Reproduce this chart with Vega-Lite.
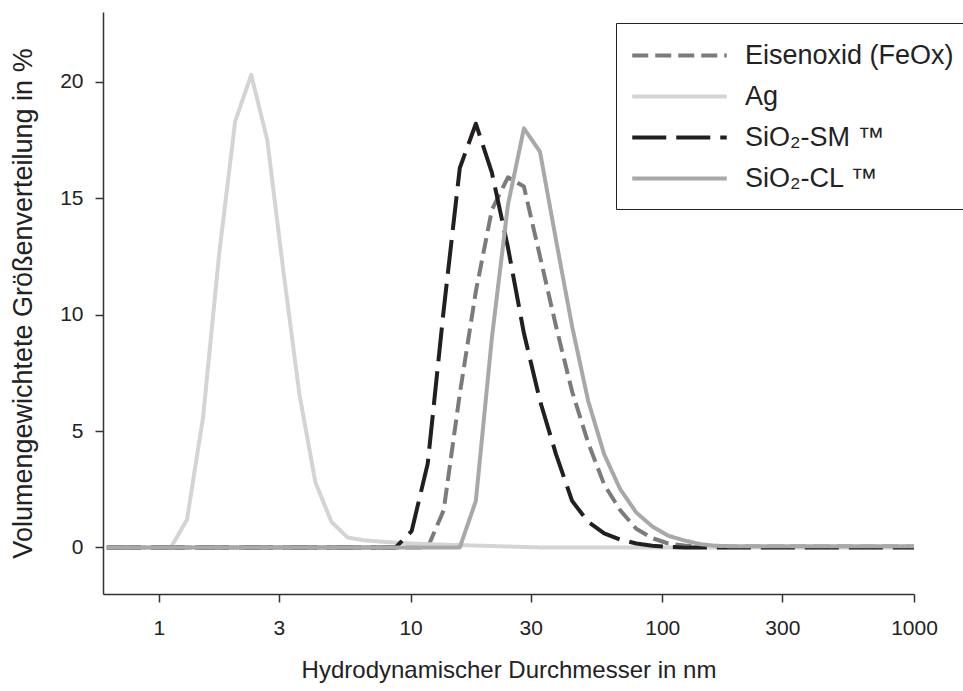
{
  "$schema": "https://vega.github.io/schema/vega-lite/v6.json",
  "autosize": "none",
  "width": 811,
  "height": 582,
  "padding": {"left": 103, "top": 12, "right": 49, "bottom": 97},
  "background": "white",
  "config": {
    "view": {"stroke": null},
    "font": "Liberation Sans",
    "axis": {
      "grid": false,
      "labelFlush": false,
      "domainColor": "#333333",
      "domainWidth": 1.5,
      "tickColor": "#333333",
      "tickWidth": 1.5,
      "tickSize": 8,
      "labelFont": "Liberation Sans",
      "labelFontSize": 21,
      "labelColor": "#222222",
      "titleFont": "Liberation Sans",
      "titleFontSize": 24,
      "titleFontWeight": "normal",
      "titleColor": "#222222"
    },
    "legend": {
      "labelFont": "Liberation Sans"
    }
  },
  "data": {
    "values": [
      {"s":"Eisenoxid (FeOx)","d":0.6213,"v":0},{"s":"Eisenoxid (FeOx)","d":0.7195,"v":0},{"s":"Eisenoxid (FeOx)","d":0.8332,"v":0},{"s":"Eisenoxid (FeOx)","d":0.9649,"v":0},{"s":"Eisenoxid (FeOx)","d":1.117,"v":0},{"s":"Eisenoxid (FeOx)","d":1.294,"v":0},{"s":"Eisenoxid (FeOx)","d":1.499,"v":0},{"s":"Eisenoxid (FeOx)","d":1.736,"v":0},{"s":"Eisenoxid (FeOx)","d":2.01,"v":0},{"s":"Eisenoxid (FeOx)","d":2.328,"v":0},{"s":"Eisenoxid (FeOx)","d":2.696,"v":0},{"s":"Eisenoxid (FeOx)","d":3.122,"v":0},{"s":"Eisenoxid (FeOx)","d":3.615,"v":0},{"s":"Eisenoxid (FeOx)","d":4.187,"v":0},{"s":"Eisenoxid (FeOx)","d":4.849,"v":0},{"s":"Eisenoxid (FeOx)","d":5.615,"v":0},{"s":"Eisenoxid (FeOx)","d":6.503,"v":0},{"s":"Eisenoxid (FeOx)","d":7.531,"v":0},{"s":"Eisenoxid (FeOx)","d":8.721,"v":0},{"s":"Eisenoxid (FeOx)","d":10.1,"v":0},{"s":"Eisenoxid (FeOx)","d":11.7,"v":0},{"s":"Eisenoxid (FeOx)","d":13.54,"v":1.6},{"s":"Eisenoxid (FeOx)","d":15.69,"v":6.6},{"s":"Eisenoxid (FeOx)","d":18.17,"v":11.0},{"s":"Eisenoxid (FeOx)","d":21.04,"v":14.5},{"s":"Eisenoxid (FeOx)","d":24.36,"v":15.9},{"s":"Eisenoxid (FeOx)","d":28.21,"v":15.5},{"s":"Eisenoxid (FeOx)","d":32.67,"v":12.5},{"s":"Eisenoxid (FeOx)","d":37.84,"v":9.5},{"s":"Eisenoxid (FeOx)","d":43.82,"v":6.7},{"s":"Eisenoxid (FeOx)","d":50.75,"v":4.5},{"s":"Eisenoxid (FeOx)","d":58.77,"v":2.7},{"s":"Eisenoxid (FeOx)","d":68.06,"v":1.6},{"s":"Eisenoxid (FeOx)","d":78.82,"v":0.8},{"s":"Eisenoxid (FeOx)","d":91.28,"v":0.4},{"s":"Eisenoxid (FeOx)","d":105.7,"v":0.17},{"s":"Eisenoxid (FeOx)","d":122.4,"v":0.08},{"s":"Eisenoxid (FeOx)","d":141.8,"v":0.05},{"s":"Eisenoxid (FeOx)","d":164.2,"v":0.04},{"s":"Eisenoxid (FeOx)","d":190.1,"v":0.04},{"s":"Eisenoxid (FeOx)","d":220.2,"v":0.04},{"s":"Eisenoxid (FeOx)","d":255.0,"v":0.04},{"s":"Eisenoxid (FeOx)","d":295.3,"v":0.04},{"s":"Eisenoxid (FeOx)","d":342.0,"v":0.04},{"s":"Eisenoxid (FeOx)","d":396.1,"v":0.04},{"s":"Eisenoxid (FeOx)","d":458.7,"v":0.04},{"s":"Eisenoxid (FeOx)","d":531.2,"v":0.04},{"s":"Eisenoxid (FeOx)","d":615.1,"v":0.04},{"s":"Eisenoxid (FeOx)","d":712.4,"v":0.04},{"s":"Eisenoxid (FeOx)","d":825.0,"v":0.04},{"s":"Eisenoxid (FeOx)","d":955.4,"v":0.04},{"s":"Eisenoxid (FeOx)","d":1106,"v":0.04},
      {"s":"Ag","d":0.6213,"v":0},{"s":"Ag","d":0.7195,"v":0},{"s":"Ag","d":0.8332,"v":0},{"s":"Ag","d":0.9649,"v":0},{"s":"Ag","d":1.117,"v":0},{"s":"Ag","d":1.294,"v":1.2},{"s":"Ag","d":1.499,"v":5.6},{"s":"Ag","d":1.736,"v":12.6},{"s":"Ag","d":2.01,"v":18.3},{"s":"Ag","d":2.328,"v":20.3},{"s":"Ag","d":2.696,"v":17.5},{"s":"Ag","d":3.122,"v":11.9},{"s":"Ag","d":3.615,"v":6.6},{"s":"Ag","d":4.187,"v":2.8},{"s":"Ag","d":4.849,"v":1.1},{"s":"Ag","d":5.615,"v":0.43},{"s":"Ag","d":6.503,"v":0.31},{"s":"Ag","d":7.531,"v":0.25},{"s":"Ag","d":8.721,"v":0.21},{"s":"Ag","d":10.1,"v":0.17},{"s":"Ag","d":11.7,"v":0.14},{"s":"Ag","d":13.54,"v":0.12},{"s":"Ag","d":15.69,"v":0.1},{"s":"Ag","d":18.17,"v":0.08},{"s":"Ag","d":21.04,"v":0.06},{"s":"Ag","d":24.36,"v":0.04},{"s":"Ag","d":28.21,"v":0.02},{"s":"Ag","d":32.67,"v":0},{"s":"Ag","d":37.84,"v":0},{"s":"Ag","d":43.82,"v":0},{"s":"Ag","d":50.75,"v":0},{"s":"Ag","d":58.77,"v":0},{"s":"Ag","d":68.06,"v":0},{"s":"Ag","d":78.82,"v":0},{"s":"Ag","d":91.28,"v":0},{"s":"Ag","d":105.7,"v":0},{"s":"Ag","d":122.4,"v":0},{"s":"Ag","d":141.8,"v":0},{"s":"Ag","d":164.2,"v":0},{"s":"Ag","d":190.1,"v":0},{"s":"Ag","d":220.2,"v":0},{"s":"Ag","d":255.0,"v":0},{"s":"Ag","d":295.3,"v":0},{"s":"Ag","d":342.0,"v":0},{"s":"Ag","d":396.1,"v":0},{"s":"Ag","d":458.7,"v":0},{"s":"Ag","d":531.2,"v":0},{"s":"Ag","d":615.1,"v":0},{"s":"Ag","d":712.4,"v":0},{"s":"Ag","d":825.0,"v":0},{"s":"Ag","d":955.4,"v":0},{"s":"Ag","d":1106,"v":0},
      {"s":"SiO₂-SM ™","d":0.6213,"v":0},{"s":"SiO₂-SM ™","d":0.7195,"v":0},{"s":"SiO₂-SM ™","d":0.8332,"v":0},{"s":"SiO₂-SM ™","d":0.9649,"v":0},{"s":"SiO₂-SM ™","d":1.117,"v":0},{"s":"SiO₂-SM ™","d":1.294,"v":0},{"s":"SiO₂-SM ™","d":1.499,"v":0},{"s":"SiO₂-SM ™","d":1.736,"v":0},{"s":"SiO₂-SM ™","d":2.01,"v":0},{"s":"SiO₂-SM ™","d":2.328,"v":0},{"s":"SiO₂-SM ™","d":2.696,"v":0},{"s":"SiO₂-SM ™","d":3.122,"v":0},{"s":"SiO₂-SM ™","d":3.615,"v":0},{"s":"SiO₂-SM ™","d":4.187,"v":0},{"s":"SiO₂-SM ™","d":4.849,"v":0},{"s":"SiO₂-SM ™","d":5.615,"v":0},{"s":"SiO₂-SM ™","d":6.503,"v":0},{"s":"SiO₂-SM ™","d":7.531,"v":0},{"s":"SiO₂-SM ™","d":8.721,"v":0},{"s":"SiO₂-SM ™","d":10.1,"v":0.7},{"s":"SiO₂-SM ™","d":11.7,"v":3.6},{"s":"SiO₂-SM ™","d":13.54,"v":10.2},{"s":"SiO₂-SM ™","d":15.69,"v":16.3},{"s":"SiO₂-SM ™","d":18.17,"v":18.2},{"s":"SiO₂-SM ™","d":21.04,"v":16.1},{"s":"SiO₂-SM ™","d":24.36,"v":12.9},{"s":"SiO₂-SM ™","d":28.21,"v":9.2},{"s":"SiO₂-SM ™","d":32.67,"v":6.3},{"s":"SiO₂-SM ™","d":37.84,"v":4.0},{"s":"SiO₂-SM ™","d":43.82,"v":2.0},{"s":"SiO₂-SM ™","d":50.75,"v":1.1},{"s":"SiO₂-SM ™","d":58.77,"v":0.6},{"s":"SiO₂-SM ™","d":68.06,"v":0.34},{"s":"SiO₂-SM ™","d":78.82,"v":0.17},{"s":"SiO₂-SM ™","d":91.28,"v":0.07},{"s":"SiO₂-SM ™","d":105.7,"v":0.02},{"s":"SiO₂-SM ™","d":122.4,"v":0},{"s":"SiO₂-SM ™","d":141.8,"v":0},{"s":"SiO₂-SM ™","d":164.2,"v":0},{"s":"SiO₂-SM ™","d":190.1,"v":0},{"s":"SiO₂-SM ™","d":220.2,"v":0},{"s":"SiO₂-SM ™","d":255.0,"v":0},{"s":"SiO₂-SM ™","d":295.3,"v":0},{"s":"SiO₂-SM ™","d":342.0,"v":0},{"s":"SiO₂-SM ™","d":396.1,"v":0},{"s":"SiO₂-SM ™","d":458.7,"v":0},{"s":"SiO₂-SM ™","d":531.2,"v":0},{"s":"SiO₂-SM ™","d":615.1,"v":0},{"s":"SiO₂-SM ™","d":712.4,"v":0},{"s":"SiO₂-SM ™","d":825.0,"v":0},{"s":"SiO₂-SM ™","d":955.4,"v":0},{"s":"SiO₂-SM ™","d":1106,"v":0},
      {"s":"SiO₂-CL ™","d":0.6213,"v":0},{"s":"SiO₂-CL ™","d":0.7195,"v":0},{"s":"SiO₂-CL ™","d":0.8332,"v":0},{"s":"SiO₂-CL ™","d":0.9649,"v":0},{"s":"SiO₂-CL ™","d":1.117,"v":0},{"s":"SiO₂-CL ™","d":1.294,"v":0},{"s":"SiO₂-CL ™","d":1.499,"v":0},{"s":"SiO₂-CL ™","d":1.736,"v":0},{"s":"SiO₂-CL ™","d":2.01,"v":0},{"s":"SiO₂-CL ™","d":2.328,"v":0},{"s":"SiO₂-CL ™","d":2.696,"v":0},{"s":"SiO₂-CL ™","d":3.122,"v":0},{"s":"SiO₂-CL ™","d":3.615,"v":0},{"s":"SiO₂-CL ™","d":4.187,"v":0},{"s":"SiO₂-CL ™","d":4.849,"v":0},{"s":"SiO₂-CL ™","d":5.615,"v":0},{"s":"SiO₂-CL ™","d":6.503,"v":0},{"s":"SiO₂-CL ™","d":7.531,"v":0},{"s":"SiO₂-CL ™","d":8.721,"v":0},{"s":"SiO₂-CL ™","d":10.1,"v":0},{"s":"SiO₂-CL ™","d":11.7,"v":0},{"s":"SiO₂-CL ™","d":13.54,"v":0},{"s":"SiO₂-CL ™","d":15.69,"v":0},{"s":"SiO₂-CL ™","d":18.17,"v":2.0},{"s":"SiO₂-CL ™","d":21.04,"v":9.0},{"s":"SiO₂-CL ™","d":24.36,"v":14.7},{"s":"SiO₂-CL ™","d":28.21,"v":18.0},{"s":"SiO₂-CL ™","d":32.67,"v":17.0},{"s":"SiO₂-CL ™","d":37.84,"v":13.2},{"s":"SiO₂-CL ™","d":43.82,"v":9.5},{"s":"SiO₂-CL ™","d":50.75,"v":6.3},{"s":"SiO₂-CL ™","d":58.77,"v":4.0},{"s":"SiO₂-CL ™","d":68.06,"v":2.5},{"s":"SiO₂-CL ™","d":78.82,"v":1.5},{"s":"SiO₂-CL ™","d":91.28,"v":0.9},{"s":"SiO₂-CL ™","d":105.7,"v":0.5},{"s":"SiO₂-CL ™","d":122.4,"v":0.3},{"s":"SiO₂-CL ™","d":141.8,"v":0.14},{"s":"SiO₂-CL ™","d":164.2,"v":0.07},{"s":"SiO₂-CL ™","d":190.1,"v":0.05},{"s":"SiO₂-CL ™","d":220.2,"v":0.05},{"s":"SiO₂-CL ™","d":255.0,"v":0.05},{"s":"SiO₂-CL ™","d":295.3,"v":0.05},{"s":"SiO₂-CL ™","d":342.0,"v":0.05},{"s":"SiO₂-CL ™","d":396.1,"v":0.05},{"s":"SiO₂-CL ™","d":458.7,"v":0.05},{"s":"SiO₂-CL ™","d":531.2,"v":0.05},{"s":"SiO₂-CL ™","d":615.1,"v":0.05},{"s":"SiO₂-CL ™","d":712.4,"v":0.05},{"s":"SiO₂-CL ™","d":825.0,"v":0.05},{"s":"SiO₂-CL ™","d":955.4,"v":0.05},{"s":"SiO₂-CL ™","d":1106,"v":0.05}
    ]
  },
  "mark": {"type": "line", "strokeWidth": 4, "clip": true, "strokeJoin": "round"},
  "encoding": {
    "x": {
      "field": "d",
      "type": "quantitative",
      "scale": {"type": "log", "domain": [0.6, 1000], "nice": false},
      "axis": {
        "values": [1, 3, 10, 30, 100, 300, 1000],
        "format": "d",
        "labelPadding": 15,
        "titlePadding": 20,
        "labelOverlap": false,
        "labelFlush": false,
        "title": "Hydrodynamischer Durchmesser in nm"
      }
    },
    "y": {
      "field": "v",
      "type": "quantitative",
      "scale": {"domain": [-2, 23], "nice": false, "zero": false},
      "axis": {
        "values": [0, 5, 10, 15, 20],
        "format": "d",
        "labelPadding": 12,
        "labelFlush": false,
        "titlePadding": 22,
        "titleFontSize": 27,
        "title": "Volumengewichtete Größenverteilung in %"
      }
    },
    "color": {
      "field": "s",
      "type": "nominal",
      "scale": {
        "domain": ["Eisenoxid (FeOx)", "Ag", "SiO₂-SM ™", "SiO₂-CL ™"],
        "range": ["#7b7b7d", "#d3d4d6", "#231f20", "#a7a8aa"]
      },
      "legend": {
        "title": null,
        "orient": "none",
        "legendX": 513,
        "legendY": 11,
        "padding": 17,
        "fillColor": "white",
        "strokeColor": "#222222",
        "labelFontSize": 27,
        "labelColor": "#222222",
        "labelLimit": 400,
        "rowPadding": 12,
        "symbolType": "M-3.5,0H3.5",
        "symbolSize": 729,
        "symbolStrokeWidth": 4,
        "symbolOffset": 31,
        "labelOffset": 50
      }
    },
    "strokeDash": {
      "field": "s",
      "type": "nominal",
      "scale": {
        "domain": ["Eisenoxid (FeOx)", "Ag", "SiO₂-SM ™", "SiO₂-CL ™"],
        "range": [[16, 7], [1, 0], [34, 10], [1, 0]]
      },
      "legend": null
    }
  }
}
